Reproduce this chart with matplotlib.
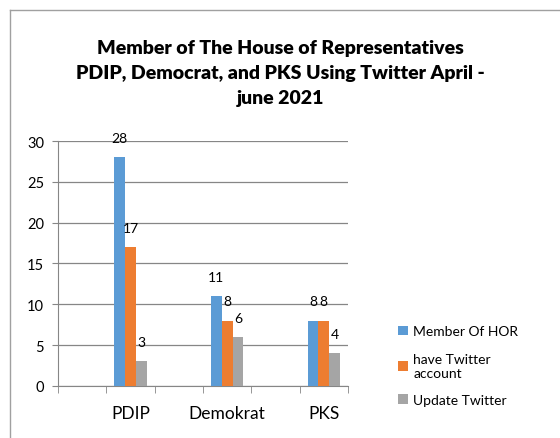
import numpy as np
import matplotlib
matplotlib.use("Agg")
import matplotlib.pyplot as plt
from matplotlib.lines import Line2D

plt.rcParams['font.family'] = ['Lato', 'DejaVu Sans']

# six category slots, the empty ones have no label and no bars
categories = ['', 'PDIP', '', 'Demokrat', '', 'PKS']
member_hor = [0, 28, 0, 11, 0, 8]
have_twitter = [0, 17, 0, 8, 0, 8]
update_twitter = [0, 3, 0, 6, 0, 4]
series_names = ['Member Of HOR', 'have Twitter\naccount', 'Update Twitter']
colors = ['#5B9BD5', '#ED7D31', '#A5A5A5']

fig = plt.figure(figsize=(5.6, 4.39), dpi=100)
ax = fig.add_axes([0.1036, 0.1185, 0.5178, 0.558])

x = np.arange(len(categories))
w = 1 / 4.5
all_series = [member_hor, have_twitter, update_twitter]
for i, (vals, col, name) in enumerate(zip(all_series, colors, series_names)):
    pos = x + (i - 1) * w
    ax.bar(pos, vals, width=w, color=col, label=name, zorder=3)
    for p, v in zip(pos, vals):
        if v > 0:
            ax.annotate(str(v), (p, v), xytext=(0, 14), textcoords='offset points',
                        ha='center', va='center', fontsize=10)

ax.set_xlim(-0.5, len(categories) - 0.5)
ax.set_ylim(0, 30)
ax.set_yticks(range(0, 31, 5))
ax.yaxis.grid(True, color='#868686', linewidth=0.9, zorder=0)
ax.set_axisbelow(True)

ax.set_xticks(x)
ax.set_xticklabels(categories, fontsize=12.5)
ax.tick_params(axis='x', length=0, pad=14)
ax.set_xticks(np.arange(-0.5, len(categories), 1), minor=True)
ax.tick_params(axis='x', which='minor', length=5, color='#868686')
ax.tick_params(axis='y', labelsize=10.5, length=4, color='#868686', pad=6)

for s in ['top', 'right']:
    ax.spines[s].set_visible(False)
ax.spines['left'].set_color('#868686')
ax.spines['bottom'].set_color('#868686')

fig.text(0.5, 0.833, 'Member of The House of Representatives\nPDIP, Democrat, and PKS Using Twitter April -\njune 2021',
         ha='center', va='center', fontsize=14, fontweight='heavy', linespacing=1.55)

leg = ax.legend(loc='upper left', bbox_to_anchor=(1.153, 0.27), frameon=False,
                fontsize=10, handlelength=0.7, handleheight=0.7, handletextpad=0.4,
                labelspacing=1.1, borderaxespad=0)

# chart frame (only left and top visible in the crop)
fig.add_artist(Line2D([0.018, 0.018], [0, 0.975], color='#a0a0a0', linewidth=1.0,
                      transform=fig.transFigure))
fig.add_artist(Line2D([0.018, 1.0], [0.975, 0.975], color='#a0a0a0', linewidth=1.0,
                      transform=fig.transFigure))

fig.savefig('out.png', dpi=100)
